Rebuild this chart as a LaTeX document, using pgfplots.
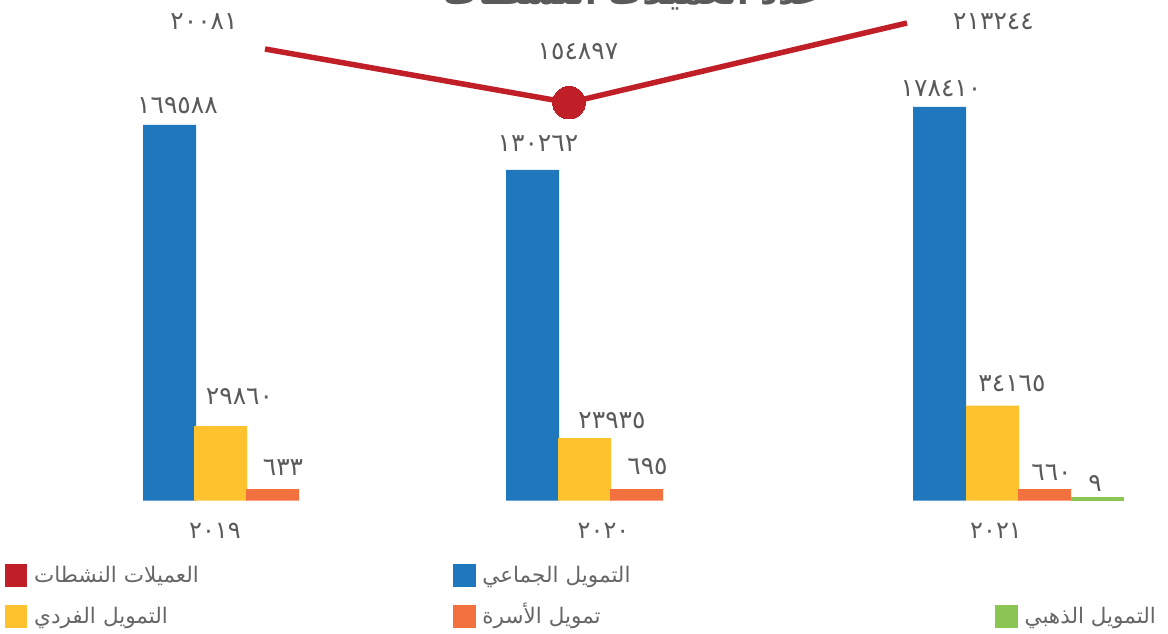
\documentclass[border=0pt]{standalone}
\usepackage{pgfplots}
\pgfplotsset{compat=1.18}
\usepackage{pgfplotstable}
\usepackage{fontspec}
\TeXXeTstate=1
\newfontfamily\arabicfont[Script=Arabic]{DejaVu Sans}
\definecolor{myblue}{HTML}{1F78BE}
\definecolor{myyellow}{HTML}{FEC22F}
\definecolor{myorange}{HTML}{F3703F}
\definecolor{mygreen}{HTML}{8BC554}
\definecolor{myred}{HTML}{C11F28}
\definecolor{textgray}{HTML}{5A5A5A}
\definecolor{leggray}{HTML}{666666}

% x = horizontal position, h = drawn bar height, val = value, lab = printed label, dx/dy = label offset
\pgfplotstableread{
x h val lab dx dy
169.5 375.7 169588 ١٦٩٥٨٨ 8 19
532.5 330.7 130262 ١٣٠٢٦٢ 5.5 26.5
939.5 393.7 178410 ١٧٨٤١٠ 1.5 18
}\tblblue
\pgfplotstableread{
x h val lab dx dy
220.5 74.7 29860 ٢٩٨٦٠ 19 29
584.5 62.7 23935 ٢٣٩٣٥ 27.5 17
992.5 95 34165 ٣٤١٦٥ 19.5 21.7
}\tblyellow
\pgfplotstableread{
x h val lab dx dy
272.5 11.7 633 ٦٣٣ 10.5 21
636.5 11.7 695 ٦٩٥ 11 22
1044.5 11.7 660 ٦٦٠ 7 16
}\tblorange
\pgfplotstableread{
x h val lab dx dy
1097.5 4 9 ٩ -2.5 12.7
}\tblgreen
\pgfplotstableread{
x h val lab dx dy
265 451.7 200081 ٢٠٠٨١ -61 27
569 398 154897 ١٥٤٨٩٧ 9 50.7
907 477.7 213244 ٢١٣٢٤٤ 86.5 1
}\tblline

\pgfplotsset{
  legsq/.style={legend image code/.code={\fill[##1, draw=none] (0pt,-5pt) rectangle (22.5pt,18pt); \path (29pt,0pt);}},
  lbls/.style={
    nodes near coords={\pgfplotspointmeta},
    point meta=explicit symbolic,
    visualization depends on={\thisrow{dx} \as \ldx},
    visualization depends on={\thisrow{dy} \as \ldy},
    every node near coord/.append style={anchor=center, xshift=\ldx pt, yshift=\ldy pt,
      font=\arabicfont\fontsize{25}{25}\selectfont, text=textgray, inner sep=0pt},
  },
  barst/.style={ybar, bar width=53, bar shift=0pt, draw=none, fill=#1, forget plot, lbls},
}

\begin{document}
\begin{tikzpicture}
\begin{axis}[
  scale only axis, width=1168pt, height=633pt,
  xmin=0, xmax=1168, ymin=-132.3, ymax=500.7,
  clip=false,
  axis x line=middle, axis y line=none,
  axis line style={draw=none},
  ytick=\empty,
  xtick={215,603.5,996},
  xticklabels={٢٠١٩,٢٠٢٠,٢٠٢١},
  major tick length=0pt,
  xticklabel style={anchor=center, yshift=-30.3pt, inner sep=0pt,
    font=\arabicfont\fontsize{24}{24}\selectfont, text=textgray},
  legend columns=3,
  legend style={at={(axis cs:5,-63.3)}, anchor=north west, draw=none, fill=none,
    inner sep=0pt, outer sep=0pt, column sep=0pt, row sep=17pt,
    nodes={inner sep=0pt, text height=18pt, text depth=6pt},
    cells={anchor=base west},
    font=\arabicfont\fontsize{21.5}{21.5}\selectfont, text=leggray,
    /tikz/column 2/.style={text width=419pt},
    /tikz/column 4/.style={text width=513pt}},
]
\addplot[barst=myblue] table[x=x, y=h, meta=lab] {\tblblue};
\addplot[barst=myyellow] table[x=x, y=h, meta=lab] {\tblyellow};
\addplot[barst=myorange] table[x=x, y=h, meta=lab] {\tblorange};
\addplot[barst=mygreen] table[x=x, y=h, meta=lab] {\tblgreen};
\addplot[color=myred, line width=5.5pt, mark=none, forget plot, lbls]
  table[x=x, y=h, meta=lab] {\tblline};
\addplot[only marks, mark=*, mark indices={2}, mark size=16.3pt,
  mark options={fill=myred, draw=myred, line width=0pt}, forget plot]
  table[x=x, y=h] {\tblline};

\node[font=\arabicfont\bfseries\fontsize{34}{34}\selectfont, text=textgray, anchor=base]
  at (axis cs:632.5,495.7) {\beginR عدد العميلات النشطات\endR};

\addlegendimage{legsq, fill=myred}
\addlegendentry{\beginR العميلات النشطات\endR}
\addlegendimage{legsq, fill=myblue}
\addlegendentry{\beginR التمويل الجماعي\endR}
\addlegendimage{empty legend}
\addlegendentry{}
\addlegendimage{legsq, fill=myyellow}
\addlegendentry{\beginR التمويل الفردي\endR}
\addlegendimage{legsq, fill=myorange}
\addlegendentry{\beginR تمويل الأسرة\endR}
\addlegendimage{legsq, fill=mygreen}
\addlegendentry{\beginR التمويل الذهبي\endR}
\end{axis}
\pgfresetboundingbox
\path[use as bounding box] (0,0) rectangle (1168pt,633pt);
\end{tikzpicture}
\end{document}
